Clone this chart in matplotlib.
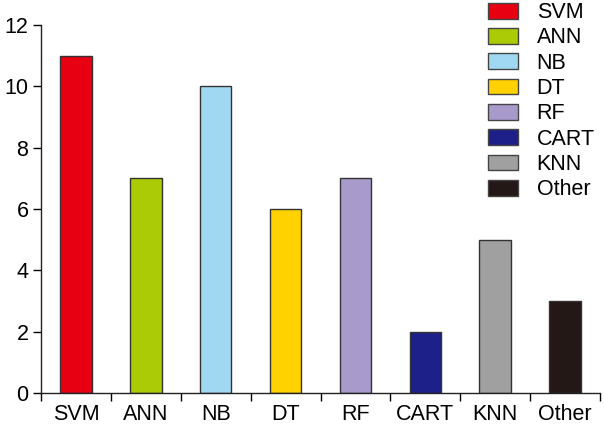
import matplotlib.pyplot as plt
import numpy as np

plt.rcParams['font.family'] = ['Liberation Sans', 'DejaVu Sans']
plt.rcParams['font.size'] = 15.5

categories = ['SVM', 'ANN', 'NB', 'DT', 'RF', 'CART', 'KNN', 'Other']
counts = [11, 7, 10, 6, 7, 2, 5, 3]
colors = ['#E60012', '#AACB05', '#A0D8F2', '#FFD200', '#A89BCC', '#1D2088', '#A0A0A0', '#231815']

fig = plt.figure(figsize=(6.05, 4.25), dpi=100)
ax = fig.add_axes([41 / 605, 32 / 425, 559 / 605, 368 / 425])

x = np.arange(len(categories))
bars = ax.bar(x, counts, width=0.45, color=colors, edgecolor='#333333', linewidth=1,
              label=categories)

ax.set_xlim(-0.5, len(categories) - 0.5)
ax.set_ylim(0, 12)
ax.set_yticks(range(0, 13, 2))
ax.set_xticks(x)
ax.set_xticklabels(categories)
ax.set_xticks(np.arange(-0.5, len(categories), 1), minor=True)
ax.tick_params(axis='x', which='major', length=0, pad=8)
ax.tick_params(axis='x', which='minor', length=6, width=1, direction='out')
ax.tick_params(axis='y', length=6, width=1, direction='out', pad=3)
for s in ['top', 'right']:
    ax.spines[s].set_visible(False)
for s in ['left', 'bottom']:
    ax.spines[s].set_linewidth(1)
    ax.spines[s].set_color('#222222')

handles = [plt.Rectangle((0, 0), 1, 1, facecolor=c, edgecolor='#444444', linewidth=1) for c in colors]
fig.legend(handles, categories, loc='upper left', bbox_to_anchor=(486 / 605, 1.0),
           frameon=False, handlelength=1.4, handleheight=0.75, handletextpad=0.85,
           labelspacing=0.2, borderaxespad=0, borderpad=0.1)

fig.savefig('out.png', dpi=100)
